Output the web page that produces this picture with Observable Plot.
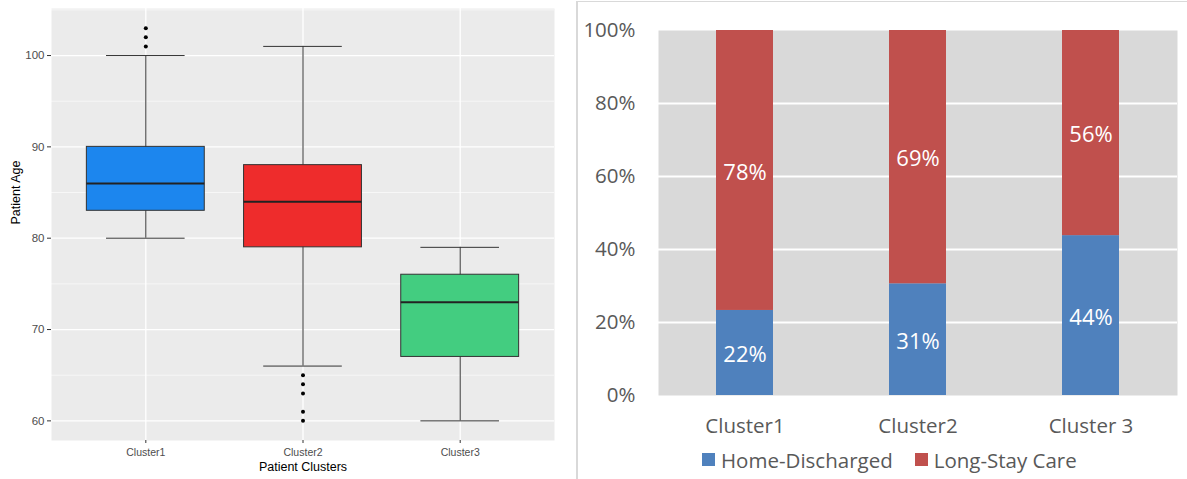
<!DOCTYPE html>
<html><head><meta charset="utf-8">
<script src="https://cdn.jsdelivr.net/npm/d3@7"></script>
<script src="https://cdn.jsdelivr.net/npm/@observablehq/plot@0.6"></script>
<style>
body{margin:0;background:#fff;}
#wrap{position:relative;width:1187px;height:479px;overflow:hidden;background:#fff;}
#left{position:absolute;left:0;top:0;}
#frame{position:absolute;left:576px;top:1px;width:640px;height:500px;border-left:2px solid #d9d9d9;border-top:1px solid #d9d9d9;}
#right{position:absolute;left:578px;top:0;}
#legend{position:absolute;left:702px;top:443px;}
</style></head><body>
<div id="wrap"><div id="left"></div><div id="frame"></div><div id="right"></div><div id="legend"></div></div>
<script>
// ---- Left panel: boxplot of patient age by cluster ----
const clusters = ["Cluster1", "Cluster2", "Cluster3"];
const whiskerLow = [80, 66, 60];
const q1 = [83, 79, 67];
const median = [86, 84, 73];
const q3 = [90, 88, 76];
const whiskerHigh = [100, 101, 79];
const boxColors = ["#1c86ee", "#ee2c2c", "#43cd80"];
const outlierCluster = ["Cluster1", "Cluster1", "Cluster1", "Cluster2", "Cluster2", "Cluster2", "Cluster2", "Cluster2"];
const outlierAge = [101, 102, 103, 65, 64, 63, 61, 60];
const ageTicks = [60, 70, 80, 90, 100];
const ageMinorTicks = [65, 75, 85, 95, 105];
const leftYTitle = "Patient Age";
const leftXTitle = "Patient Clusters";

// ---- Right panel: discharge destination share by cluster ----
const barClusters = ["Cluster1", "Cluster2", "Cluster 3"];
const seriesNames = ["Home-Discharged", "Long-Stay Care"];
const seriesColors = ["#4f81bd", "#c0504d"];
const homeShare = [23.3, 30.6, 43.8];
const longShare = [76.7, 69.4, 56.2];
const homeLabels = ["22%", "31%", "44%"];
const longLabels = ["78%", "69%", "56%"];
const pctTicks = [0, 20, 40, 60, 80, 100];
const pctGrid = [20, 40, 60, 80];

const boxes = clusters.map((c, i) => ({
  name: c, pos: i + 1, low: whiskerLow[i], q1: q1[i], med: median[i], q3: q3[i], high: whiskerHigh[i], color: boxColors[i]
}));
const outliers = outlierCluster.map((c, i) => ({pos: clusters.indexOf(c) + 1, age: outlierAge[i]}));

const left = Plot.plot({
  width: 577, height: 479,
  marginLeft: 51, marginRight: 23, marginTop: 8, marginBottom: 39,
  style: {fontFamily: "'Liberation Sans', Arial, sans-serif", background: "transparent", overflow: "visible"},
  x: {type: "linear", domain: [0.4, 3.6], axis: null},
  y: {domain: [57.85, 105.15], axis: null},
  color: {type: "identity"},
  marks: [
    Plot.frame({fill: "#ebebeb", stroke: null}),
    Plot.ruleY(ageMinorTicks, {stroke: "#fff", strokeWidth: 0.6}),
    Plot.ruleY(ageTicks, {stroke: "#fff", strokeWidth: 1.3}),
    Plot.ruleX(boxes, {x: "pos", stroke: "#fff", strokeWidth: 1.3}),
    Plot.ruleX(boxes, {x: "pos", y1: "low", y2: "high", stroke: "#333", strokeWidth: 1}),
    Plot.ruleY(boxes, {y: "low", x1: d => d.pos - 0.25, x2: d => d.pos + 0.25, stroke: "#333", strokeWidth: 1}),
    Plot.ruleY(boxes, {y: "high", x1: d => d.pos - 0.25, x2: d => d.pos + 0.25, stroke: "#333", strokeWidth: 1}),
    Plot.rect(boxes, {x1: d => d.pos - 0.375, x2: d => d.pos + 0.375, y1: "q1", y2: "q3", fill: "color", stroke: "#333", strokeWidth: 1}),
    Plot.ruleY(boxes, {y: "med", x1: d => d.pos - 0.375, x2: d => d.pos + 0.375, stroke: "#222", strokeWidth: 2}),
    Plot.dot(outliers, {x: "pos", y: "age", r: 2, fill: "#000", stroke: null}),
    Plot.axisY(ageTicks, {tickSize: 4, tickPadding: 3, fontSize: 11.5, fill: "#4d4d4d", stroke: "#333", label: null}),
    Plot.axisX([1, 2, 3], {tickFormat: d => clusters[d - 1], tickSize: 3, tickPadding: 5, fontSize: 10.5, fill: "#4d4d4d", stroke: "#333", label: null}),
    Plot.text([leftYTitle], {frameAnchor: "left", dx: -36, rotate: -90, fontSize: 12.5, fill: "#000"}),
    Plot.text([leftXTitle], {frameAnchor: "bottom", dy: 30, fontSize: 12.5, fill: "#000"})
  ]
});
document.getElementById("left").append(left);

const rows = [];
barClusters.forEach((c, i) => {
  rows.push({cluster: c, series: seriesNames[0], value: homeShare[i], label: homeLabels[i]});
  rows.push({cluster: c, series: seriesNames[1], value: longShare[i], label: longLabels[i]});
});

const right = Plot.plot({
  width: 609, height: 440,
  marginLeft: 80, marginRight: 10, marginTop: 30, marginBottom: 45,
  style: {fontFamily: "'Open Sans', sans-serif", background: "transparent", overflow: "visible"},
  x: {domain: barClusters, paddingInner: 0.67, paddingOuter: 0.335, axis: null},
  y: {domain: [0, 100], axis: null},
  color: {domain: seriesNames, range: seriesColors},
  marks: [
    Plot.frame({fill: "#d9d9d9", stroke: null}),
    Plot.ruleY(pctGrid, {stroke: "#fff", strokeWidth: 2}),
    Plot.barY(rows, {x: "cluster", y: "value", fill: "series"}),
    Plot.text(rows, Plot.stackY({x: "cluster", y: "value", text: "label", fill: "#fff", fontSize: 22, dy: 2})),
    Plot.axisY(pctTicks, {tickFormat: d => d + "%", tickSize: 0, tickPadding: 23, fontSize: 20.5, fill: "#595959", label: null}),
    Plot.axisX({tickSize: 0, tickPadding: 23, fontSize: 20.5, fill: "#595959", label: null})
  ]
});
document.getElementById("right").append(right);

const legend = Plot.legend({
  color: {domain: seriesNames, range: seriesColors},
  swatchSize: 13,
  style: {fontFamily: "'Open Sans', sans-serif", fontSize: "20.5px", color: "#595959"}
});
legend.querySelectorAll("svg").forEach(s => { s.style.marginRight = "6px"; });
Array.from(legend.children).forEach(s => { s.style.marginRight = "22px"; });
document.getElementById("legend").append(legend);
</script>
</body></html>
